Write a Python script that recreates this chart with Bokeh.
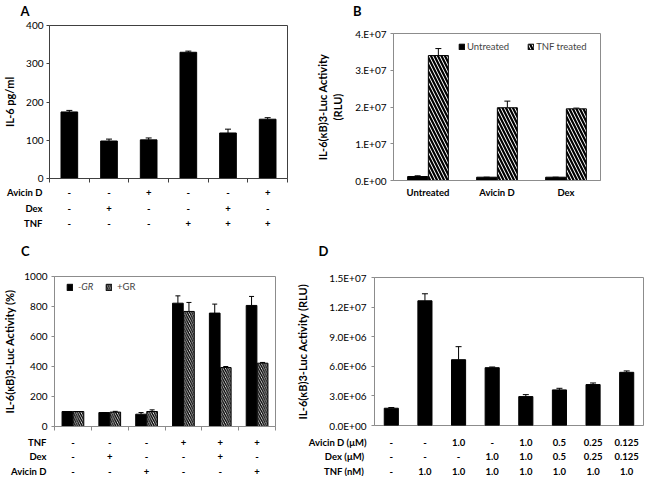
import numpy as np
from bokeh.plotting import figure
from bokeh.layouts import column, row
from bokeh.models import (ColumnDataSource, Range1d, FixedTicker, Whisker, TeeHead,
                          Legend, LegendItem)
from bokeh.core.properties import value
from bokeh.embed import file_html
from bokeh.resources import INLINE

FONT = "Lato"

# ---------------- data ----------------
# Panel A
a_values = [174, 98, 101, 330, 119, 155]
a_errors = [4, 5, 5, 3, 10, 4]
a_rows = ["Avicin D", "Dex", "TNF"]
a_table = [["-", "-", "+", "-", "-", "+"],
           ["-", "+", "-", "-", "+", "-"],
           ["-", "-", "-", "+", "+", "+"]]
a_yticks = [0, 100, 200, 300, 400]

# Panel B
b_categories = ["Untreated", "Avicin D", "Dex"]
b_untreated = [1.08e6, 0.9e6, 0.9e6]
b_untreated_err = [0.2e6, 0.0, 0.0]
b_tnf = [3.40e7, 1.98e7, 1.95e7]
b_tnf_err = [0.19e7, 0.18e7, 0.02e7]
b_yticks = [0, 10000000, 20000000, 30000000, 40000000]
b_ytick_labels = ["0.E+00", "1.E+07", "2.E+07", "3.E+07", "4.E+07"]

# Panel C
c_minus_gr = [100, 93, 82, 822, 756, 807]
c_minus_gr_err = [0, 0, 11, 49, 60, 60]
c_plus_gr = [100, 96, 100, 767, 393, 422]
c_plus_gr_err = [0, 5, 11, 60, 7, 5]
c_rows = ["TNF", "Dex", "Avicin D"]
c_table = [["-", "-", "-", "+", "+", "+"],
           ["-", "+", "-", "-", "+", "-"],
           ["-", "-", "+", "-", "-", "+"]]
c_yticks = [0, 200, 400, 600, 800, 1000]

# Panel D
d_values = [1.75e6, 12.64e6, 6.67e6, 5.86e6, 2.93e6, 3.61e6, 4.15e6, 5.39e6]
d_errors = [0.07e6, 0.71e6, 1.32e6, 0.07e6, 0.20e6, 0.16e6, 0.16e6, 0.14e6]
d_rows = ["Avicin D (\u03bcM)", "Dex  (\u03bcM)", "TNF  (nM)"]
d_table = [["-", "-", "1.0", "-", "1.0", "0.5", "0.25", "0.125"],
           ["-", "-", "-", "1.0", "1.0", "0.5", "0.25", "0.125"],
           ["-", "1.0", "1.0", "1.0", "1.0", "1.0", "1.0", "1.0"]]
d_yticks = [0, 3000000, 6000000, 9000000, 12000000, 15000000]
d_ytick_labels = ["0.0E+00", "3.0E+06", "6.0E+06", "9.0E+06", "1.2E+07", "1.5E+07"]

TICK_SIZE = "10px"
TITLE_SIZE = "11px"
TABLE_SIZE = "9.5px"


def style_axis(ax, color):
    ax.axis_line_color = color
    ax.major_tick_line_color = color
    ax.minor_tick_line_color = None
    ax.major_tick_out = 3
    ax.major_tick_in = 0
    ax.minor_tick_in = 0
    ax.major_label_text_font = FONT
    ax.major_label_text_font_size = TICK_SIZE
    ax.major_label_text_color = "black"
    ax.axis_label_text_font = FONT
    ax.axis_label_text_font_style = "bold"
    ax.axis_label_text_font_size = TITLE_SIZE
    ax.axis_label_text_color = "black"


def chart(w, h, fl, fr, ft, fb, n, ymax, outline):
    p = figure(width=w, height=h, output_backend="svg", toolbar_location=None,
               x_range=Range1d(0.5, n + 0.5), y_range=Range1d(0, ymax),
               min_border_left=fl, min_border_right=fr,
               min_border_top=ft, min_border_bottom=fb)
    p.xgrid.visible = False
    p.ygrid.visible = False
    p.outline_line_color = outline
    p.outline_line_width = 1
    style_axis(p.xaxis[0], outline)
    style_axis(p.yaxis[0], outline)
    return p


def text_strip(w, h, fl, fr, n, labels, label_y, standoff, size):
    """A strip with the same frame columns as its chart; its left axis carries the row texts."""
    p = figure(width=w, height=h, output_backend="svg", toolbar_location=None,
               x_range=Range1d(0.5, n + 0.5), y_range=Range1d(h, 0),
               min_border_left=fl, min_border_right=fr, min_border_top=0, min_border_bottom=0,
               x_axis_location=None, outline_line_color=None)
    p.grid.visible = False
    ax = p.yaxis[0]
    ax.ticker = FixedTicker(ticks=list(label_y))
    ax.major_label_overrides = dict(zip(label_y, labels))
    ax.axis_line_color = None
    ax.major_tick_line_color = None
    ax.minor_tick_line_color = None
    ax.major_tick_out = 0
    ax.major_tick_in = 0
    ax.major_label_standoff = standoff
    ax.major_label_text_font = FONT
    ax.major_label_text_font_style = "bold"
    ax.major_label_text_font_size = size
    ax.major_label_text_color = "black"
    return p


def header(w, h, fl, fr, letter, ly, standoff):
    return text_strip(w, h, fl, fr, 1, [letter], [ly], standoff, "13px")


def table_fig(w, h, fl, fr, n, rows, cells, row_y, gap):
    p = text_strip(w, h, fl, fr, n, rows, row_y, gap, TABLE_SIZE)
    pos = list(np.arange(1, n + 1))
    for rv, yy in zip(cells, row_y):
        p.text(x=pos, y=[yy] * n, text=rv, text_font=value(FONT), text_font_style="bold",
               text_font_size=TABLE_SIZE, text_align="center", text_baseline="middle",
               text_color="black")
    return p


def separators(p, n, outline):
    p.xaxis.ticker = FixedTicker(ticks=[], minor_ticks=list(np.arange(0.5, n + 1, 1.0)))
    p.xaxis.minor_tick_line_color = outline
    p.xaxis.minor_tick_out = 4
    p.xaxis.major_label_standoff = 0


def whiskers(p, x, top, err, size):
    top = np.asarray(top, dtype=float)
    err = np.asarray(err, dtype=float)
    src = ColumnDataSource(dict(base=x, lower=top, upper=top + err))
    p.add_layout(Whisker(base="base", lower="lower", upper="upper", source=src,
                         dimension="height", line_color="black", line_width=1,
                         lower_head=None,
                         upper_head=TeeHead(size=size, line_color="black", line_width=1)))


off = 0.15

# ---------------- Panel A ----------------
na = len(a_values)
xa = np.arange(1, na + 1)
A_OUT = "#404040"
WA, FLA, FRA = 312, 45, 25
pa = chart(WA, 167, FLA, FRA, 6, 8, na, a_yticks[-1], A_OUT)
pa.vbar(x=xa, top=a_values, width=0.42, fill_color="black", line_color="black")
whiskers(pa, xa, a_values, a_errors, 6)
pa.yaxis.ticker = FixedTicker(ticks=a_yticks)
pa.yaxis.major_label_standoff = 3
pa.yaxis.axis_label = "IL-6 pg/ml"
pa.yaxis.axis_label_standoff = 7
separators(pa, na, A_OUT)
ha = header(WA, 19, FLA, FRA, "A", 6, 20)
ta = table_fig(WA, 48, FLA, FRA, na, a_rows, a_table, [6, 22, 37], 7)

# ---------------- Panel B ----------------
nb = len(b_categories)
xb = np.arange(1, nb + 1)
WB, FLB, FRB = 333, 77, 45
pb = chart(WB, 215, FLB, FRB, 14, 54, nb, b_yticks[-1], "#8c8c8c")
r_un = pb.vbar(x=xb - off, top=b_untreated, width=0.29, fill_color="black", line_color="black")
r_tnf = pb.vbar(x=xb + off, top=b_tnf, width=0.29, fill_color="white", line_color="black",
                hatch_pattern="\\", hatch_color="black", hatch_weight=2.2, hatch_scale=7)
whiskers(pb, xb - off, b_untreated, b_untreated_err, 6)
whiskers(pb, xb + off, b_tnf, b_tnf_err, 6)
pb.yaxis.ticker = FixedTicker(ticks=b_yticks)
pb.yaxis.major_label_overrides = dict(zip(b_yticks, b_ytick_labels))
pb.yaxis.major_label_standoff = 4
pb.yaxis.axis_label = "IL-6(\u03baB)3-Luc Activity\n(RLU)"
pb.yaxis.axis_label_standoff = 8
pb.xaxis.ticker = FixedTicker(ticks=list(xb))
pb.xaxis.major_label_overrides = {int(k): v for k, v in zip(xb, b_categories)}
pb.xaxis.major_tick_out = 0
pb.xaxis.major_label_standoff = 6
pb.xaxis.major_label_text_font_style = "bold"
pb.xaxis.major_label_text_font_size = TABLE_SIZE
pb.add_layout(Legend(items=[LegendItem(label="Untreated", renderers=[r_un]),
                            LegendItem(label="TNF treated", renderers=[r_tnf])],
                     orientation="horizontal", location=(65, 128),
                     glyph_width=7, glyph_height=7, label_height=9, label_standoff=2,
                     spacing=18, padding=0, margin=0,
                     label_text_font=FONT, label_text_font_size=TABLE_SIZE,
                     border_line_color=None, background_fill_alpha=0))
hb = header(WB, 19, FLB, FRB, "B", 6, 32)

# ---------------- Panel C ----------------
nc = len(c_minus_gr)
xc = np.arange(1, nc + 1)
C_OUT = "#8c8c8c"
WC, FLC, FRC = 292, 47, 17
pc = chart(WC, 162, FLC, FRC, 6, 6, nc, c_yticks[-1], C_OUT)
r_m = pc.vbar(x=xc - off, top=c_minus_gr, width=0.29, fill_color="black", line_color="black")
r_p = pc.vbar(x=xc + off, top=c_plus_gr, width=0.29, fill_color="white", line_color="black",
              hatch_pattern="\\", hatch_color="black", hatch_weight=1.4, hatch_scale=4.5)
whiskers(pc, xc - off, c_minus_gr, c_minus_gr_err, 5)
whiskers(pc, xc + off, c_plus_gr, c_plus_gr_err, 5)
pc.yaxis.ticker = FixedTicker(ticks=c_yticks)
pc.yaxis.major_label_standoff = 4
pc.yaxis.axis_label = "IL-6(\u03baB)3-Luc Activity (%)"
pc.yaxis.axis_label_standoff = 5
separators(pc, nc, C_OUT)
for item, rend, style, xloc in (("-GR", r_m, "italic", 12), ("+GR", r_p, "normal", 51)):
    pc.add_layout(Legend(items=[LegendItem(label=item, renderers=[rend])],
                         location=(xloc, 134), glyph_width=7, glyph_height=8,
                         label_height=9, label_standoff=5, padding=0, margin=0,
                         label_text_font=FONT, label_text_font_size=TABLE_SIZE,
                         label_text_font_style=style,
                         border_line_color=None, background_fill_alpha=0))
hc = header(WC, 36, FLC, FRC, "C", 16, 25)
tc = table_fig(WC, 44, FLC, FRC, nc, c_rows, c_table, [10, 24, 39], 8)

# ---------------- Panel D ----------------
nd = len(d_values)
xd = np.arange(1, nd + 1)
WD, FLD, FRD = 353, 82, 2
pd_ = chart(WD, 162, FLD, FRD, 7, 7, nd, d_yticks[-1], "#8c8c8c")
pd_.vbar(x=xd, top=d_values, width=0.42, fill_color="black", line_color="black")
whiskers(pd_, xd, d_values, d_errors, 6)
pd_.yaxis.ticker = FixedTicker(ticks=d_yticks)
pd_.yaxis.major_label_overrides = dict(zip(d_yticks, d_ytick_labels))
pd_.yaxis.major_label_standoff = 5
pd_.yaxis.axis_label = "IL-6(\u03baB)3-Luc Activity (RLU)"
pd_.yaxis.axis_label_standoff = 17
pd_.xaxis.visible = False
hd = header(WD, 36, FLD, FRD, "D", 16, 46)
td = table_fig(WD, 44, FLD, FRD, nd, d_rows, d_table, [10, 24, 39], 8)

layout = column(row(column(ha, pa, ta), column(hb, pb)),
                row(column(hc, pc, tc), column(hd, pd_, td)))
open("out.html", "w").write(file_html(layout, INLINE))
